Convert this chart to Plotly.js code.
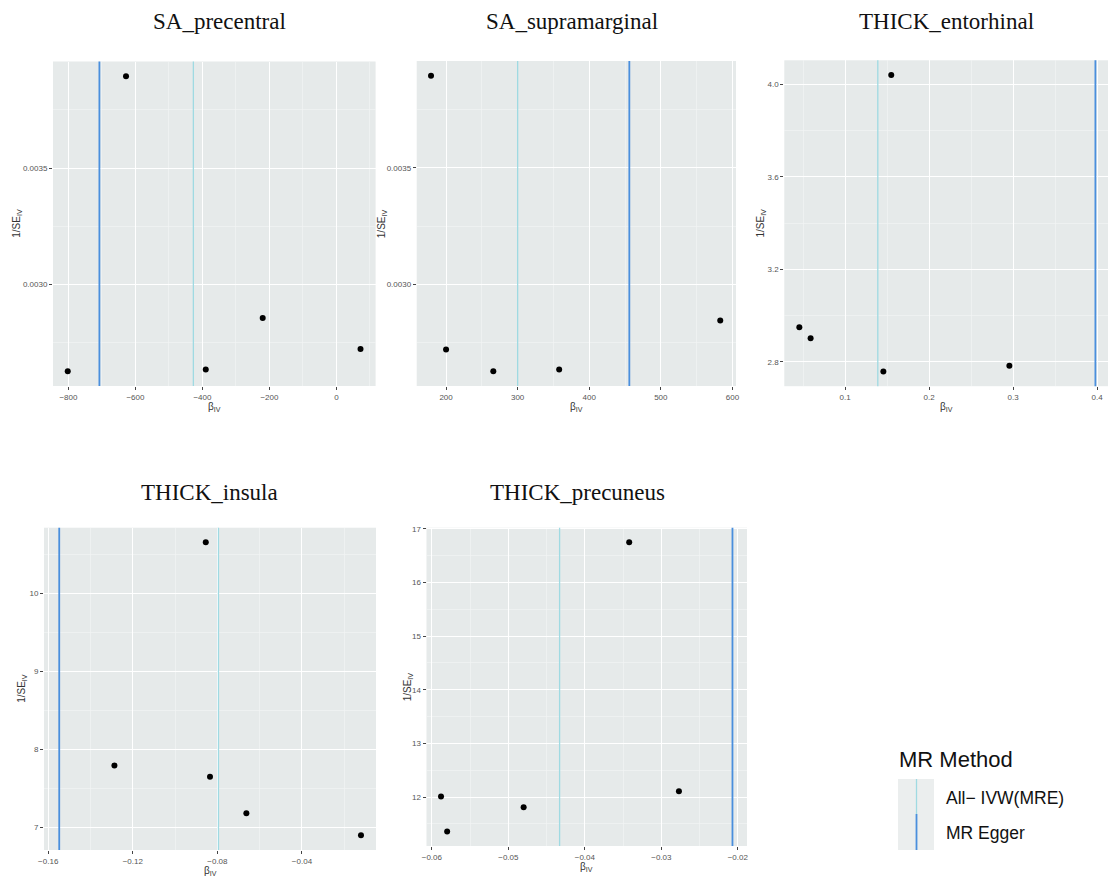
<!DOCTYPE html>
<html>
<head>
<meta charset="utf-8">
<script src="https://cdn.plot.ly/plotly-3.0.1.min.js"></script>
<style>html,body{margin:0;padding:0;background:#fff;}#chart{width:1108px;height:877px;}</style>
</head>
<body>
<div id="chart"></div>
<script>
// ---------- data ----------
const panelTitles = ["SA_precentral", "SA_supramarginal", "THICK_entorhinal", "THICK_insula", "THICK_precuneus"];

const betaSAprecentral = [-802, -628, -390, -220, 72];
const invSeSAprecentral = [0.002628, 0.003895, 0.002636, 0.002857, 0.002724];

const betaSAsupramarginal = [179, 200, 266, 358, 583];
const invSeSAsupramarginal = [0.003894, 0.002721, 0.002628, 0.002636, 0.002846];

const betaEntorhinal = [0.155, 0.0456, 0.059, 0.1456, 0.2956];
const invSeEntorhinal = [4.04, 2.949, 2.901, 2.758, 2.783];

const betaInsula = [-0.0855, -0.1287, -0.0835, -0.0663, -0.0121];
const invSeInsula = [10.655, 7.79, 7.645, 7.176, 6.893];

const betaPrecuneus = [-0.0342, -0.0588, -0.058, -0.048, -0.0277];
const invSePrecuneus = [16.75, 12.01, 11.36, 11.81, 12.11];

const ivwEstimates = [-427, 300, 0.139, -0.0795, -0.0433];
const eggerEstimates = [-707.5, 456, 0.398, -0.1548, -0.0207];

const methodLabels = ["All\u2212 IVW(MRE)", "MR Egger"];
const legendTitle = "MR Method";
const xAxisLabel = "\u03b2<sub>IV</sub>";
const yAxisLabel = "1/SE<sub>IV</sub>";

// ---------- styling / layout ----------
const W = 1108, H = 877;
const px = v => v / W;
const py = v => 1 - v / H;

const betas = [betaSAprecentral, betaSAsupramarginal, betaEntorhinal, betaInsula, betaPrecuneus];
const invSes = [invSeSAprecentral, invSeSAsupramarginal, invSeEntorhinal, invSeInsula, invSePrecuneus];

const boxes = [ // pixel boxes [left, right, top, bottom]
  [53, 375.6, 61.5, 386],
  [416.7, 736, 61, 386],
  [784.3, 1108, 60.3, 386.2],
  [44, 376, 527.7, 850],
  [426.5, 747, 527.7, 846]
];
const xRanges = [[-846, 117], [159, 605], [0.0277, 0.413], [-0.162, -0.005], [-0.0607, -0.0188]];
const yRanges = [[0.002565, 0.003958], [0.002565, 0.003957], [2.694, 4.104], [6.705, 10.843], [11.09, 17.02]];
const xTick = [[200, 100, null], [100, 50, null], [0.1, 0.05, '.1f'], [0.04, 0.02, null], [0.01, 0.005, null]];
const yTick = [[0.0005, 0.00025, '.4f'], [0.0005, 0.00025, '.4f'], [0.4, 0.2, '.1f'], [1, 0.5, null], [1, 0.5, null]];
const titlePos = [[219, 21], [572, 21], [946, 21], [209, 492], [577, 492]];
const yTitleShift = [-36, -34, -23, -22, -19];

const IVW_COLOR = '#9FDAE2';
const EGGER_COLOR = '#4A8FDD';
const PANEL_BG = '#E6EAEA';
const tickFont = {family: 'Liberation Sans, Arial, sans-serif', size: 8, color: '#555555'};

const data = [];
const layout = {
  width: W, height: H,
  margin: {l: 0, r: 0, t: 0, b: 0},
  paper_bgcolor: '#ffffff',
  plot_bgcolor: PANEL_BG,
  showlegend: false,
  shapes: [],
  annotations: []
};

for (let i = 0; i < 5; i++) {
  const n = i === 0 ? '' : String(i + 1);
  const xa = 'x' + n, ya = 'y' + n;
  const b = boxes[i];
  data.push({
    type: 'scatter', mode: 'markers',
    x: betas[i], y: invSes[i],
    xaxis: xa, yaxis: ya,
    marker: {color: '#000000', size: 6},
    hoverinfo: 'x+y'
  });
  const common = {
    showgrid: true, gridcolor: '#ffffff', gridwidth: 1,
    zeroline: false, showline: false,
    ticks: 'outside', ticklen: 3, tickwidth: 1, tickcolor: '#444444',
    tickfont: tickFont, tick0: 0
  };
  layout['xaxis' + n] = Object.assign({}, common, {
    domain: [px(b[0]), px(b[1])], anchor: ya,
    range: xRanges[i], dtick: xTick[i][0],
    tickformat: xTick[i][2] || undefined,
    minor: {dtick: xTick[i][1], tick0: 0, showgrid: true, gridcolor: '#F3F5F5', gridwidth: 0.6, ticks: ''}
  });
  layout['yaxis' + n] = Object.assign({}, common, {
    domain: [py(b[3]), py(b[2])], anchor: xa,
    range: yRanges[i], dtick: yTick[i][0],
    tickformat: yTick[i][2] || undefined,
    minor: {dtick: yTick[i][1], tick0: 0, showgrid: true, gridcolor: '#F3F5F5', gridwidth: 0.6, ticks: ''}
  });
  // vertical method lines
  layout.shapes.push({
    type: 'line', layer: 'above', xref: xa, yref: ya + ' domain',
    x0: ivwEstimates[i], x1: ivwEstimates[i], y0: 0, y1: 1,
    line: {color: IVW_COLOR, width: 1.3}
  });
  layout.shapes.push({
    type: 'line', layer: 'above', xref: xa, yref: ya + ' domain',
    x0: eggerEstimates[i], x1: eggerEstimates[i], y0: 0, y1: 1,
    line: {color: EGGER_COLOR, width: 1.8}
  });
  // panel title
  layout.annotations.push({
    xref: 'paper', yref: 'paper', x: px(titlePos[i][0]), y: py(titlePos[i][1]),
    xanchor: 'center', yanchor: 'middle', showarrow: false,
    text: panelTitles[i],
    font: {family: 'Liberation Serif, Times New Roman, serif', size: 23, color: '#111111'}
  });
  // x-axis title
  layout.annotations.push({
    xref: xa + ' domain', yref: ya + ' domain', x: 0.5, y: 0,
    xanchor: 'center', yanchor: 'middle', yshift: -21, showarrow: false,
    text: xAxisLabel,
    font: {family: 'Liberation Sans, Arial, sans-serif', size: 10, color: '#333333'}
  });
  // y-axis title
  layout.annotations.push({
    xref: xa + ' domain', yref: ya + ' domain', x: 0, y: 0.5,
    xanchor: 'center', yanchor: 'middle', xshift: yTitleShift[i], textangle: -90, showarrow: false,
    text: yAxisLabel,
    font: {family: 'Liberation Sans, Arial, sans-serif', size: 10, color: '#333333'}
  });
}

// ---------- legend (drawn manually) ----------
layout.shapes.push({
  type: 'rect', xref: 'paper', yref: 'paper', layer: 'above',
  x0: px(898), x1: px(934), y0: py(850), y1: py(779),
  fillcolor: '#EBEEEE', line: {width: 0}
});
layout.shapes.push({
  type: 'line', xref: 'paper', yref: 'paper', layer: 'above',
  x0: px(916.5), x1: px(916.5), y0: py(814), y1: py(779),
  line: {color: IVW_COLOR, width: 1.3}
});
layout.shapes.push({
  type: 'line', xref: 'paper', yref: 'paper', layer: 'above',
  x0: px(916.5), x1: px(916.5), y0: py(850), y1: py(814),
  line: {color: EGGER_COLOR, width: 1.8}
});
layout.annotations.push({
  xref: 'paper', yref: 'paper', x: px(897), y: py(759),
  xanchor: 'left', yanchor: 'middle', showarrow: false,
  text: legendTitle,
  font: {family: 'Liberation Sans, Arial, sans-serif', size: 22, color: '#111111'}
});
layout.annotations.push({
  xref: 'paper', yref: 'paper', x: px(944), y: py(798),
  xanchor: 'left', yanchor: 'middle', showarrow: false,
  text: methodLabels[0],
  font: {family: 'Liberation Sans, Arial, sans-serif', size: 17.5, color: '#111111'}
});
layout.annotations.push({
  xref: 'paper', yref: 'paper', x: px(944), y: py(833),
  xanchor: 'left', yanchor: 'middle', showarrow: false,
  text: methodLabels[1],
  font: {family: 'Liberation Sans, Arial, sans-serif', size: 17.5, color: '#111111'}
});

Plotly.newPlot('chart', data, layout, {displayModeBar: false, staticPlot: true});
</script>
</body>
</html>
